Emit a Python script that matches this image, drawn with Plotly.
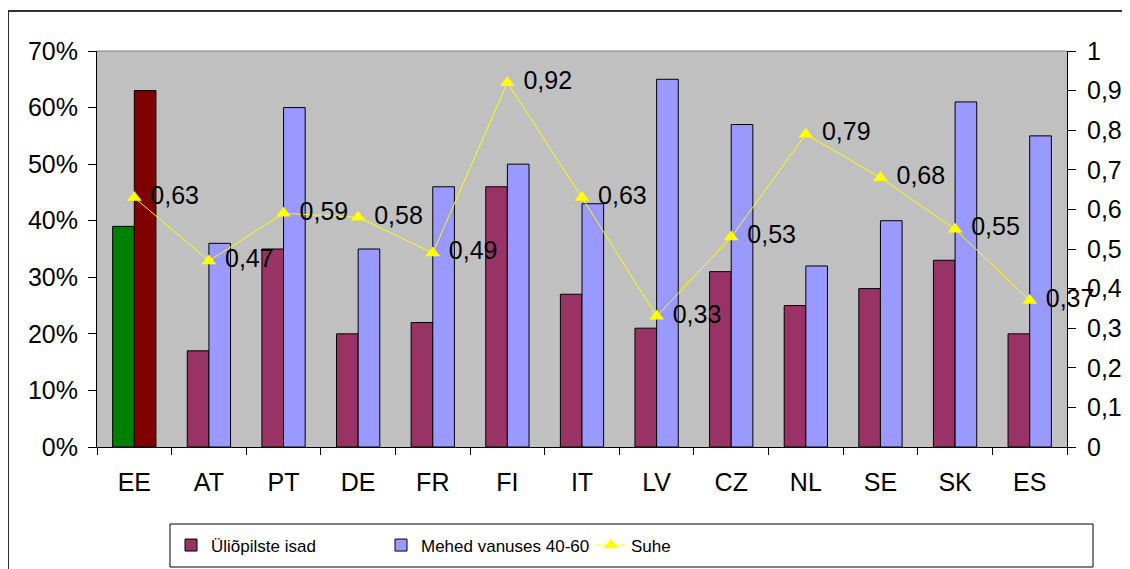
import plotly.graph_objects as go

# data
countries = ["EE", "AT", "PT", "DE", "FR", "FI", "IT", "LV", "CZ", "NL", "SE", "SK", "ES"]
isad_pct = [39, 17, 35, 20, 22, 46, 27, 21, 31, 25, 28, 33, 20]
mehed_pct = [63, 36, 60, 35, 46, 50, 43, 65, 57, 32, 40, 61, 55]
suhe = [0.63, 0.47, 0.59, 0.58, 0.49, 0.92, 0.63, 0.33, 0.53, 0.79, 0.68, 0.55, 0.37]

# the page body adds an 8px margin, so the figure is a bit smaller than the window
OFF = 8
W, H = 1130 - OFF, 569 - OFF
TICK_FONT = dict(family="Liberation Sans, Arial, sans-serif", size=25, color="black")
LEGEND_FONT = dict(family="Liberation Sans, Arial, sans-serif", size=17, color="black")


def px_x(x):
    return (x - OFF) / W


def px_y(y):
    return 1 - (y - OFF) / H


fig = go.Figure()

# regular countries
fig.add_trace(go.Bar(
    x=countries[1:], y=isad_pct[1:], name="Üliõpilste isad",
    offsetgroup="a", marker=dict(color="#993366", line=dict(color="black", width=1)),
))
fig.add_trace(go.Bar(
    x=countries[1:], y=mehed_pct[1:], name="Mehed vanuses 40-60",
    offsetgroup="b", marker=dict(color="#9999FF", line=dict(color="black", width=1)),
))
# Estonia highlighted with its own colours
fig.add_trace(go.Bar(
    x=countries[:1], y=isad_pct[:1], showlegend=False,
    offsetgroup="a", marker=dict(color="#008000", line=dict(color="black", width=1)),
))
fig.add_trace(go.Bar(
    x=countries[:1], y=mehed_pct[:1], showlegend=False,
    offsetgroup="b", marker=dict(color="#800000", line=dict(color="black", width=1)),
))

fig.add_trace(go.Scatter(
    x=countries, y=suhe, name="Suhe", yaxis="y2",
    mode="lines+markers+text",
    line=dict(color="#FFFF00", width=1),
    marker=dict(symbol="triangle-up", size=13, color="#FFFF00"),
    text=suhe, texttemplate="\u00a0%{y:.2f}", textposition="middle right",
    textfont=TICK_FONT, cliponaxis=False,
))

fig.update_layout(
    width=W, height=H,
    margin=dict(l=0, r=0, t=0, b=0),
    paper_bgcolor="white", plot_bgcolor="#C0C0C0",
    separators=", ",
    barmode="group", bargap=0.42, bargroupgap=0,
    showlegend=True,
    legend=dict(
        orientation="h", x=px_x(171), y=px_y(545.5), xanchor="left", yanchor="middle",
        font=LEGEND_FONT, bgcolor="rgba(0,0,0,0)", borderwidth=0,
        entrywidth=165, entrywidthmode="pixels", traceorder="normal",
    ),
    xaxis=dict(
        domain=[px_x(97), px_x(1067)], automargin=False,
        range=[-0.5, len(countries) - 0.5],
        categoryorder="array", categoryarray=countries,
        showline=True, linecolor="black", linewidth=1,
        ticks="outside", tickson="boundaries", ticklen=7, tickcolor="black",
        tickfont=TICK_FONT, ticklabelstandoff=13, showgrid=False, zeroline=False,
    ),
    yaxis=dict(
        domain=[px_y(447), px_y(51)], automargin=False,
        range=[0, 70], dtick=10, ticksuffix="%",
        showline=True, linecolor="black", linewidth=1,
        ticks="outside", ticklen=8, tickcolor="black",
        tickfont=TICK_FONT, ticklabelstandoff=5, showgrid=False, zeroline=False,
    ),
    yaxis2=dict(
        overlaying="y", side="right", range=[0, 1], dtick=0.1, automargin=False,
        showline=True, linecolor="black", linewidth=1,
        ticks="outside", ticklen=8, tickcolor="black",
        tickfont=TICK_FONT, ticklabelstandoff=6, showgrid=False, zeroline=False,
    ),
    shapes=[
        # top edge of plot area
        dict(type="line", xref="paper", yref="paper",
             x0=px_x(97), x1=px_x(1067), y0=px_y(51), y1=px_y(51),
             line=dict(color="#808080", width=1)),
        # outer chart border
        dict(type="rect", xref="paper", yref="paper",
             x0=px_x(8), x1=px_x(1140), y0=px_y(580), y1=px_y(11),
             line=dict(color="#333333", width=2)),
        # legend box
        dict(type="rect", xref="paper", yref="paper",
             x0=px_x(170), x1=px_x(1093), y0=px_y(567), y1=px_y(524),
             line=dict(color="black", width=1)),
    ],
)

fig.write_html("out.html")
